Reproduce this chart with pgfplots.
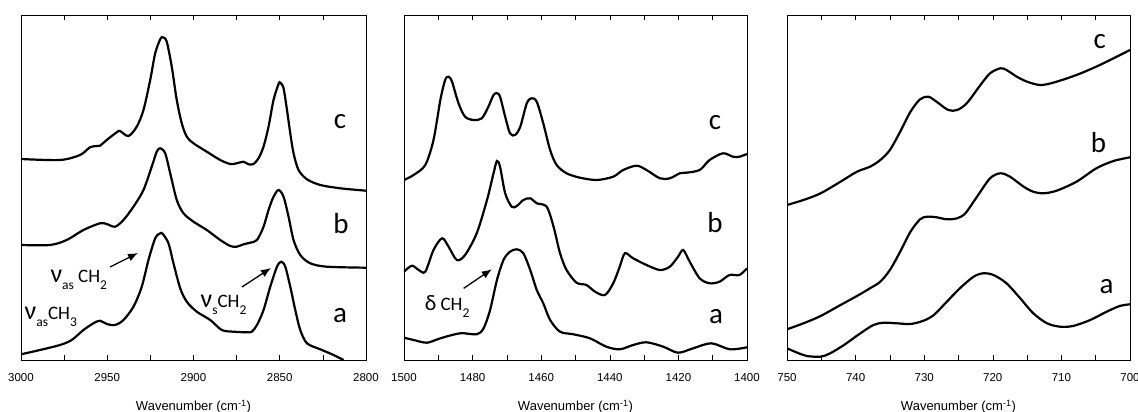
\documentclass[border=0pt]{standalone}
\usepackage{pgfplots}
\pgfplotsset{compat=1.18}
\usetikzlibrary{arrows.meta}
\usepackage{fontspec}
\setmainfont{Liberation Sans}
\newfontfamily\carlito{Carlito}

\newcommand{\lab}[1]{{\carlito\fontsize{29}{29}\selectfont #1}}
\newcommand{\nuv}{{\fontsize{26}{26}\selectfont ν}}
\newcommand{\sub}[1]{\raisebox{-7pt}{\fontsize{13.5}{13.5}\selectfont #1}}
\newcommand{\ann}[1]{{\carlito\fontsize{19}{19}\selectfont #1}}

\tikzset{arr/.style={-{Latex[length=10pt,width=8pt]}, line width=1.3pt}}
\pgfplotsset{
  spec/.style={
    scale only axis,
    height=345pt,
    ymin=0, ymax=345,
    x dir=reverse,
    ytick=\empty,
    tick align=inside,
    minor x tick num=1,
    major tick length=5pt,
    minor tick length=5pt,
    axis line style={line width=0.8pt},
    every tick/.style={black, line width=0.6pt},
    /pgf/number format/1000 sep={},
    /pgf/number format/assume math mode=true,
    xticklabel style={font=\fontsize{11.5}{12}\selectfont, yshift=-10pt},
    xlabel={Wavenumber (cm\textsuperscript{-1})},
    xlabel style={at={(axis description cs:0.5,0)}, anchor=center, yshift=-47pt, font=\fontsize{13}{14}\selectfont},
  },
  sp/.style={black, line width=2.2pt, smooth, no marks},
}

\begin{document}
\begin{tikzpicture}
\path[use as bounding box] (0pt,-52pt) rectangle (1138pt,360pt);

% C-H stretching region
\begin{axis}[spec, at={(21pt,0pt)}, width=345pt, xmin=2800, xmax=3000,
  xtick={3000,2950,2900,2850,2800}]
\addplot[sp] coordinates {
(3000,201) (2977.4,200) (2965.8,205) (2960,212.7) (2956.1,214) (2954.2,214.3)
(2950.3,220) (2944.5,227.7) (2942.6,229) (2937.7,224) (2932.9,233.3) (2929,250)
(2925.1,280) (2922.2,306.7) (2919.3,320.7) (2917.8,322.7) (2915.5,318.3) (2912.6,293.3)
(2909.7,260) (2906.8,236.7) (2903.9,223.3) (2900,216.7) (2892.3,208.3) (2884.5,200)
(2878.7,196) (2874.9,196.7) (2871,198.3) (2868.1,195.7) (2865.2,196) (2862.3,201.7)
(2859.4,213.3) (2856.5,233.3) (2853.6,260) (2850.7,276) (2849.7,277.3) (2847.8,271.7)
(2845.8,250) (2843.9,226.7) (2842,206.7) (2839.1,190) (2834.2,180.7) (2826.5,175)
(2814.9,171.7) (2800,169.3)
};
\addplot[sp] coordinates {
(3000,115) (2983.2,115) (2973.5,120) (2963.8,130) (2954.2,136.7) (2950.3,136)
(2945.5,133.3) (2940.6,140) (2934.8,153.3) (2929,170) (2924.2,193.3) (2921.3,208.3)
(2919.3,211.7) (2916.4,206.7) (2913.5,186.7) (2909.7,160) (2905.8,146.7) (2900,138.3)
(2892.3,130) (2884.5,120) (2878.7,114) (2874.9,113.3) (2871,115.7) (2867.1,117.3)
(2863.2,120) (2859.4,133.3) (2856.5,150) (2853.6,163.3) (2850.7,170) (2847.8,163.3)
(2844.9,143.3) (2842,120) (2838.1,105) (2832.3,96.7) (2822.6,93.3) (2800,92.3)
};
\addplot[sp] coordinates {
(3000,5.7) (2989,10) (2977.4,15) (2970.6,20) (2963.8,30) (2958,36.7) (2954.2,39.3)
(2950.3,36) (2945.5,35) (2940.6,40) (2934.8,53.3) (2930,73.3) (2926.1,100)
(2922.2,121.7) (2919.3,126.7) (2917.8,126) (2914.5,116.7) (2911.6,96.7) (2907.7,71.7)
(2903.9,58.3) (2898.1,48.3) (2890.3,40) (2883.6,30) (2876.8,28.3) (2869.1,27.7)
(2866.2,28.3) (2863.2,35) (2859.4,50) (2855.5,73.3) (2851.6,93.3) (2849.1,98.3)
(2846.8,93.3) (2843.9,73.3) (2841,50) (2838.1,30) (2834.2,16.7) (2826.5,10.7)
(2818.8,5) (2813,0)
};
\node at (axis cs:2815,238) {\lab{c}};
\node at (axis cs:2814.5,136) {\lab{b}};
\node at (axis cs:2815,44) {\lab{a}};
\node[anchor=west, inner sep=0pt] at (axis cs:2983,80) {\ann{\nuv\sub{as} CH\sub{2}}};
\node[anchor=west, inner sep=0pt] at (axis cs:2998,43) {\ann{\nuv\sub{as}CH\sub{3}}};
\node[anchor=west, inner sep=0pt] at (axis cs:2896,55) {\ann{\nuv\sub{s}CH\sub{2}}};
\draw[arr] (axis cs:2948.4,93) -- (axis cs:2932.2,107);
\draw[arr] (axis cs:2871.9,73) -- (axis cs:2855.1,92);
\end{axis}

% CH2 bending region
\begin{axis}[spec, at={(404pt,0pt)}, width=343pt, xmin=1400, xmax=1500,
  xtick={1500,1480,1460,1440,1420,1400}]
\addplot[sp] coordinates {
(1500,180) (1497.2,185) (1493.8,195) (1491.4,220) (1489.4,260) (1488,280) (1487,283.3)
(1486,278.3) (1484.1,256.7) (1482.2,243.3) (1479.7,240) (1477.3,241.7) (1475.4,253.3)
(1473.9,265) (1472.9,266.7) (1472,263.3) (1470.5,243.3) (1469.1,226.7) (1467.6,225)
(1466.1,233.3) (1464.2,256.7) (1462.8,261.7) (1461.3,258.3) (1459.4,236.7) (1457.4,210)
(1455.5,195) (1452.6,186.7) (1448.7,182.3) (1443.8,180) (1439,183.3) (1436.1,190)
(1432.2,194.3) (1429.3,190) (1425.4,181.7) (1422.5,181.7) (1419.6,186.7) (1417.7,187.3)
(1413.8,190) (1410.9,200) (1407,206.7) (1404.1,203.3) (1402.2,203.3) (1400,206)
};
\addplot[sp] coordinates {
(1500,88.3) (1497.7,94.3) (1495.7,90) (1493.8,88.3) (1491.4,110) (1488.9,121.7)
(1487,113.3) (1484.6,100) (1482.2,105) (1478.8,126.7) (1475.8,160) (1473.9,186.7)
(1472.9,199) (1472,193.3) (1470.5,166.7) (1468.6,153.3) (1467.1,154) (1465.2,160)
(1463.2,161.7) (1461.3,156.7) (1458.4,153.3) (1456.4,133.3) (1454.5,106.7) (1452.6,90)
(1449.7,77.3) (1446.8,75) (1444.3,68.3) (1441.4,65) (1439,76.7) (1437.1,93.3)
(1435.6,106.7) (1433.2,101.7) (1429.3,95) (1425.4,90) (1422.5,93.3) (1420.1,103.3)
(1418.6,110) (1416.7,98.3) (1413.8,81.7) (1410.9,76.7) (1408,78.3) (1405.1,85)
(1402.2,85) (1400,91.7)
};
\addplot[sp] coordinates {
(1500,22.3) (1497.2,20) (1493.3,17.3) (1489.4,21.7) (1483.6,26.7) (1478.8,25.7)
(1476.8,31.7) (1474.9,50) (1472.9,80) (1471,100) (1469.1,108.3) (1467.1,110.7)
(1465.2,106.7) (1463.2,90) (1461.3,70) (1459.4,56.7) (1457.4,40) (1454.5,28.3)
(1450.6,25.7) (1445.8,21.7) (1441,13.3) (1437.1,10.7) (1433.2,15) (1429.3,17.7)
(1424.4,13.3) (1420.1,7.3) (1415.7,11.7) (1410.4,16.7) (1405,10.7) (1400,12.7)
};
\node at (axis cs:1409.3,237) {\lab{c}};
\node at (axis cs:1409.3,137) {\lab{b}};
\node at (axis cs:1409,43) {\lab{a}};
\node[anchor=west, inner sep=0pt] at (axis cs:1494,53) {\ann{{\fontsize{22}{22}\selectfont δ} CH\sub{2}}};
\draw[arr] (axis cs:1482.6,71.7) -- (axis cs:1474.4,90.7);
\end{axis}

% CH2 rocking region
\begin{axis}[spec, at={(787pt,0pt)}, width=343pt, xmin=700, xmax=750,
  xtick={750,740,730,720,710,700}]
\addplot[sp] coordinates {
(750,155) (747.6,160) (745.1,166.7) (742.2,178.3) (739.8,188.3) (737.9,193.3)
(736.4,200) (735,210) (733.5,228.3) (732,248.3) (730.6,260.7) (729.4,263.3)
(728.2,258.3) (726.5,250) (725.2,250) (723.8,256.7) (721.8,275) (720.4,286.7)
(718.9,291.7) (718,290) (716.5,283.3) (715,278.3) (713.1,275) (711.2,277.3)
(707.8,285) (704.4,295) (700,310)
};
\addplot[sp] coordinates {
(750,30.7) (747.6,36.7) (745.1,44) (742.2,55) (739.8,64) (737.9,71.7) (736.4,78.3)
(735,90) (733.5,108.3) (732,128.3) (730.6,140.7) (729.6,143.3) (728.2,142.7)
(726.7,140.7) (725.2,141.7) (724,146.7) (722.3,163.3) (720.4,181.7) (718.9,186.7)
(717.5,183.3) (715.5,173.3) (714.1,168.3) (712.6,166.7) (710.7,169.3) (707.8,178.3)
(704.9,191.7) (702.4,199) (700,202.7)
};
\addplot[sp] coordinates {
(750,11.7) (748.5,7.3) (747.1,4) (745.1,3.3) (743.7,6.7) (741.7,15) (739.3,26.7)
(737.4,35) (735.9,37.3) (734,36.7) (732,36) (730.1,39.3) (728.6,45) (726.7,58.3)
(724.8,71.7) (722.8,83.3) (721.4,86.7) (719.9,85) (718,76.7) (716,61.7) (714.1,46.7)
(712.1,36.7) (710.2,33.3) (708.3,34) (705.8,40) (703.4,48.3) (701.5,54) (700,55.7)
};
\node at (axis cs:704.4,318) {\lab{c}};
\node at (axis cs:704.6,217) {\lab{b}};
\node at (axis cs:703.4,73) {\lab{a}};
\end{axis}
\end{tikzpicture}
\end{document}
